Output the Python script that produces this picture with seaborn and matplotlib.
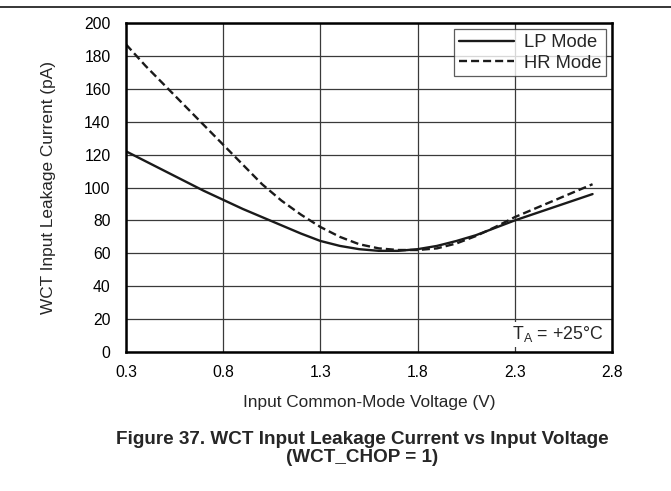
import matplotlib
matplotlib.use("Agg")
import matplotlib.pyplot as plt
import seaborn as sns
import pandas as pd

voltage = [0.3, 0.4, 0.5, 0.6, 0.7, 0.8, 0.9, 1.0, 1.1, 1.2, 1.3, 1.4, 1.5, 1.6, 1.7,
           1.8, 1.9, 2.0, 2.1, 2.2, 2.3, 2.4, 2.5, 2.6, 2.7]
lp_mode = [122, 116, 110, 104, 98, 92.5, 87, 82, 77, 72, 67.5, 64.5, 62.5, 61.5, 61.5,
           62.5, 64.5, 67.5, 71, 75.5, 80, 84, 88, 92, 96]
hr_mode = [187, 174, 162, 150, 138, 126, 114, 102, 92, 83.5, 76, 70, 65.5, 63, 62,
           62, 63, 66, 70.5, 76, 82, 87, 92, 97, 102]
x_ticks = [0.3, 0.8, 1.3, 1.8, 2.3, 2.8]
y_ticks = [0, 20, 40, 60, 80, 100, 120, 140, 160, 180, 200]

sns.set_style("white")
plt.rcParams['font.family'] = ['Liberation Sans', 'DejaVu Sans']
plt.rcParams['mathtext.fontset'] = 'custom'
plt.rcParams['mathtext.rm'] = 'Liberation Sans'

df = pd.DataFrame({
    "V": voltage * 2,
    "I": lp_mode + hr_mode,
    "Mode": ["LP Mode"] * len(voltage) + ["HR Mode"] * len(voltage),
})

W, H = 671, 491
L, R, T, B = 126, 612, 23, 352
fig = plt.figure(figsize=(W / 100, H / 100), dpi=100)
ax = fig.add_axes([L / W, 1 - B / H, (R - L) / W, (B - T) / H])

sns.lineplot(data=df, x="V", y="I", style="Mode", color="#1a1a1a",
             dashes={"LP Mode": "", "HR Mode": (3.4, 1.7)}, linewidth=1.7, ax=ax)

ax.set_xlim(0.3, 2.8)
ax.set_ylim(0, 200)
ax.set_xticks(x_ticks)
ax.set_yticks(y_ticks)
ax.set_xticklabels([f"{t:.1f}" for t in x_ticks])
ax.tick_params(length=0, labelsize=11.3, colors="black")
ax.tick_params(axis="x", pad=9.5)
ax.tick_params(axis="y", pad=11)
ax.grid(True, color="#3a3a3a", linewidth=0.9)
for s in ax.spines.values():
    s.set_linewidth(1.8)
    s.set_color("black")
ax.set_xlabel("")
ax.set_ylabel("")

leg = ax.legend(loc="upper right", bbox_to_anchor=((606 - L) / (R - L), (B - 29.3) / (B - T)),
                borderaxespad=0, fontsize=13.2, frameon=True, fancybox=False,
                handlelength=2.97, handletextpad=0.54, borderpad=0.26, labelspacing=0.2)
leg.get_frame().set_edgecolor("#333333")
leg.get_frame().set_linewidth(0.9)

ax.text((603 - L) / (R - L), 0.038, r"T$_\mathregular{A}$ = +25°C", transform=ax.transAxes,
        ha="right", va="baseline", fontsize=12.8,
        bbox=dict(facecolor="white", edgecolor="none", pad=1.5))

fig.add_artist(plt.Line2D([0, 1], [1 - 6.7 / H, 1 - 6.7 / H], color="black", linewidth=1.1))

xl = fig.text(369 / W, 1 - 403 / H, "Input Common-Mode Voltage (V)",
              ha="center", va="center", fontsize=12)
yl = fig.text(49 / W, 1 - 188 / H, "WCT Input Leakage Current (pA)",
              ha="center", va="center", rotation=90, fontsize=12)
t1 = fig.text(362 / W, 1 - 439.5 / H, "Figure 37. WCT Input Leakage Current vs Input Voltage",
              ha="center", va="center", fontsize=13, fontweight="bold")
t2 = fig.text(362 / W, 1 - 458 / H, "(WCT_CHOP = 1)",
              ha="center", va="center", fontsize=13, fontweight="bold")

# size texts so their widths approach the reference widths
fig.canvas.draw()
rend = fig.canvas.get_renderer()
def fit(t, target):
    w = t.get_window_extent(rend).width
    t.set_fontsize(t.get_fontsize() * target / w)
fit(xl, 253)
yl.set_fontsize(xl.get_fontsize())
fit(t1, 492)
t2.set_fontsize(t1.get_fontsize())

fig.savefig("out.png", dpi=100)
